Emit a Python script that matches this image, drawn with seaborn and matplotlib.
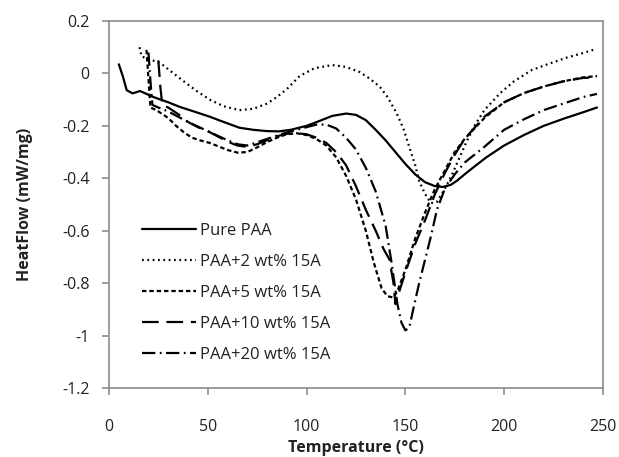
import numpy as np
import pandas as pd
import matplotlib
matplotlib.use("Agg")
import matplotlib.pyplot as plt
import seaborn as sns

# DSC heat-flow traces (temperature in °C, heat flow in mW/mg)
pure_T = [5, 7, 9, 12, 15.7, 19, 22.5, 30, 36, 45, 51, 58, 66, 73, 80, 86, 92, 100, 107, 113, 120,
          125, 130, 135, 140, 145, 150, 155, 160, 165, 169, 173, 176, 180, 185, 191, 200, 210, 220,
          230, 240, 247]
pure_Q = [0.035, -0.01, -0.064, -0.076, -0.067, -0.078, -0.09, -0.11, -0.128, -0.15, -0.165, -0.185,
          -0.207, -0.215, -0.22, -0.221, -0.215, -0.2, -0.18, -0.162, -0.153, -0.158, -0.178, -0.215,
          -0.255, -0.3, -0.345, -0.385, -0.415, -0.43, -0.433, -0.425, -0.41, -0.385, -0.355, -0.32,
          -0.275, -0.235, -0.2, -0.173, -0.148, -0.13]

paa2_T = [15.5, 16.5, 20, 26, 31, 37, 44, 51, 58, 66, 73, 80, 85, 90, 96.5, 104, 113, 120, 127,
          132, 137, 141, 145.5, 149, 152, 155, 157, 160, 163, 166, 170, 174, 177.5, 181, 185, 190,
          198, 205, 214, 222, 231.5, 240, 246]
paa2_Q = [0.1, 0.065, 0.055, 0.04, 0.01, -0.025, -0.065, -0.1, -0.125, -0.14, -0.135, -0.115,
          -0.09, -0.06, -0.01, 0.02, 0.032, 0.025, 0.005, -0.02, -0.05, -0.09, -0.15, -0.21, -0.28,
          -0.35, -0.41, -0.46, -0.495, -0.49, -0.44, -0.38, -0.32, -0.26, -0.2, -0.14, -0.075,
          -0.03, 0.013, 0.035, 0.06, 0.078, 0.092]

paa5_T = [19, 20, 21, 24, 27, 30, 34, 38, 42, 46, 51, 56, 60, 65, 70, 75, 80, 85, 90, 95, 100, 105,
          110, 115, 120, 125, 130, 134, 138, 141, 144, 146, 150, 155, 160, 165, 170, 175, 180, 190,
          200, 210, 220, 230, 240, 247]
paa5_Q = [0.09, -0.02, -0.13, -0.14, -0.155, -0.17, -0.2, -0.225, -0.245, -0.255, -0.265, -0.28,
          -0.292, -0.302, -0.3, -0.282, -0.262, -0.245, -0.232, -0.228, -0.235, -0.25, -0.275, -0.32,
          -0.39, -0.48, -0.6, -0.72, -0.82, -0.85, -0.855, -0.83, -0.75, -0.63, -0.53, -0.44, -0.37,
          -0.3, -0.25, -0.17, -0.11, -0.075, -0.05, -0.03, -0.015, -0.01]

paa10_T = [25, 26, 27, 30, 35, 40, 45, 50, 55, 60, 65, 70, 75, 80, 85, 90, 95, 100, 105, 110, 115,
           120, 125, 130, 135, 139, 142, 144, 145, 147, 150, 155, 160, 165, 170, 175, 180, 190,
           200, 210, 220, 230, 240, 247]
paa10_Q = [0.05, -0.05, -0.12, -0.13, -0.155, -0.185, -0.205, -0.22, -0.24, -0.26, -0.275, -0.28,
           -0.27, -0.255, -0.24, -0.23, -0.228, -0.232, -0.245, -0.265, -0.3, -0.35, -0.43, -0.52,
           -0.6, -0.67, -0.71, -0.8, -0.88, -0.83, -0.76, -0.65, -0.56, -0.46, -0.38, -0.31, -0.25,
           -0.165, -0.11, -0.075, -0.05, -0.03, -0.017, -0.015]

paa20_T = [20, 21, 22, 25, 30, 40, 50, 60, 65, 70, 80, 90, 100, 105, 110, 115, 120, 125, 130, 135,
           140, 143, 146, 148, 150, 152, 154, 157, 160, 163, 166, 170, 175, 180, 190, 200, 210,
           220, 230, 240, 247]
paa20_Q = [0.08, -0.03, -0.12, -0.13, -0.145, -0.185, -0.22, -0.255, -0.27, -0.275, -0.25, -0.225,
           -0.205, -0.195, -0.195, -0.21, -0.245, -0.29, -0.36, -0.45, -0.58, -0.72, -0.88, -0.95,
           -0.98, -0.97, -0.9, -0.8, -0.71, -0.62, -0.52, -0.44, -0.385, -0.34, -0.28, -0.215,
           -0.175, -0.14, -0.115, -0.09, -0.078]

labels = ["Pure PAA", "PAA+2 wt% 15A", "PAA+5 wt% 15A", "PAA+10 wt% 15A", "PAA+20 wt% 15A"]
series_T = [pure_T, paa2_T, paa5_T, paa10_T, paa20_T]
series_Q = [pure_Q, paa2_Q, paa5_Q, paa10_Q, paa20_Q]

x_ticks = [0, 50, 100, 150, 200, 250]
y_ticks = [0.2, 0, -0.2, -0.4, -0.6, -0.8, -1, -1.2]
y_tick_labels = ["0.2", "0", "-0.2", "-0.4", "-0.6", "-0.8", "-1", "-1.2"]

frames = [pd.DataFrame({"Temperature": t, "HeatFlow": q, "Sample": lab})
          for t, q, lab in zip(series_T, series_Q, labels)]
df = pd.concat(frames, ignore_index=True)

sns.set_style("white")
plt.rcParams["font.family"] = ["Open Sans", "DejaVu Sans"]

line_dashes = {
    "Pure PAA": "",
    "PAA+2 wt% 15A": (0.8, 1.6),
    "PAA+5 wt% 15A": (2.0, 1.3),
    "PAA+10 wt% 15A": (7.5, 3.5),
    "PAA+20 wt% 15A": (6.0, 2.0, 0.8, 2.0),
}

fig = plt.figure(figsize=(6.19, 4.57), dpi=100)
ax = fig.add_axes([0.176, 0.151, 0.798, 0.803])

sns.lineplot(data=df, x="Temperature", y="HeatFlow", hue="Sample", style="Sample",
             hue_order=labels, style_order=labels,
             palette=["black"] * 5, dashes=line_dashes, sort=False, estimator=None,
             linewidth=1.6, ax=ax)

ax.set_xlim(0, 250)
ax.set_ylim(-1.2, 0.2)
ax.set_xticks(x_ticks)
ax.set_yticks(y_ticks)
ax.set_yticklabels(y_tick_labels)

grey = "#8c8c8c"
for side in ["left", "right", "top", "bottom"]:
    ax.spines[side].set_visible(True)
    ax.spines[side].set_color(grey)
    ax.spines[side].set_linewidth(1.2)
ax.tick_params(axis="both", which="major", direction="out", length=5, width=1.2,
               color=grey, labelsize=11.5, labelcolor="#222222")
ax.tick_params(axis="x", pad=17)
ax.tick_params(axis="y", pad=9)
ax.tick_params(top=False, right=False, bottom=True, left=True)

ax.set_xlabel("Temperature (°C)", fontsize=11.5, fontweight="bold", labelpad=4, color="#222222")
ax.set_ylabel("HeatFlow (mW/mg)", fontsize=11.5, fontweight="bold", labelpad=21, color="#222222")

handles, hl = ax.get_legend_handles_labels()
for h in handles:
    h.set_linewidth(1.6)
ax.legend(handles, hl, loc="upper left", bbox_to_anchor=(0.054, 0.468), frameon=False,
          fontsize=12, handlelength=3.2, handletextpad=0.25, labelspacing=0.9,
          labelcolor="#222222", borderaxespad=0.0)

fig.savefig("out.png", dpi=100)
